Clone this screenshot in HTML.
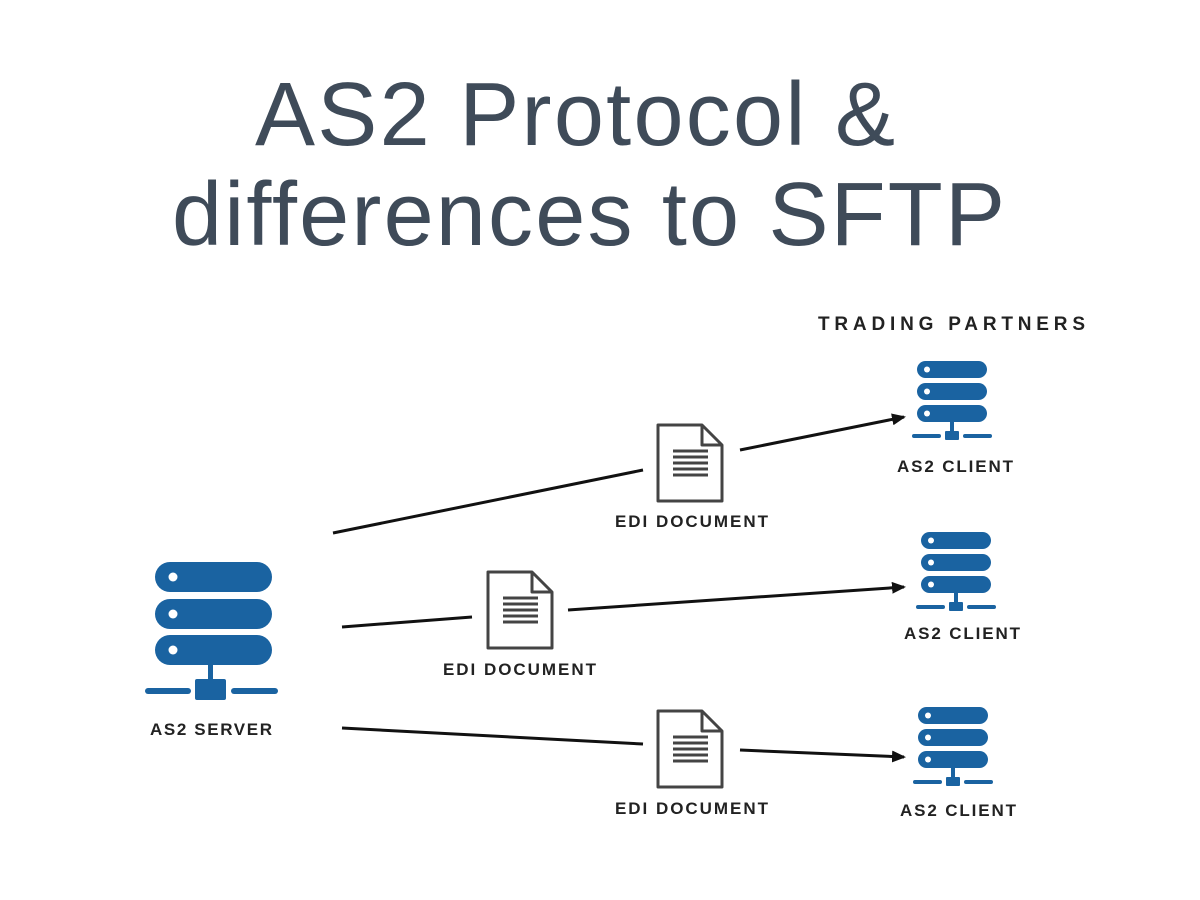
<!DOCTYPE html>
<html><head><meta charset="utf-8"><style>
html,body{margin:0;padding:0;background:#fff;}
svg{display:block;}
.t{font-family:"Liberation Sans",sans-serif;fill:#3f4b59;font-size:90px;}
.l{font-family:"Liberation Sans",sans-serif;font-weight:bold;fill:#222;font-size:17px;}
</style></head><body>
<svg width="1200" height="900" viewBox="0 0 1200 900" xmlns="http://www.w3.org/2000/svg">
<defs>
<marker id="ar" markerWidth="14" markerHeight="12" refX="12" refY="6" orient="auto" markerUnits="userSpaceOnUse">
<path d="M0,0 L14,6 L0,12 Z" fill="#111"/></marker>
<g id="doc">
<path d="M0,0 H44 L64,20 V76 H0 Z" fill="#fff" stroke="#444" stroke-width="3" stroke-linejoin="round"/>
<path d="M44,0 V20 H64" fill="none" stroke="#444" stroke-width="3" stroke-linejoin="round"/>
<g stroke="#444" stroke-width="3"><line x1="15" y1="26" x2="50" y2="26"/><line x1="15" y1="32" x2="50" y2="32"/><line x1="15" y1="38" x2="50" y2="38"/><line x1="15" y1="44" x2="50" y2="44"/><line x1="15" y1="50" x2="50" y2="50"/></g>
</g>
<g id="cli" fill="#1a63a1">
<rect x="0" y="0" width="70" height="17" rx="8.5"/><rect x="0" y="22" width="70" height="17" rx="8.5"/><rect x="0" y="44" width="70" height="17" rx="8.5"/>
<circle cx="10" cy="8.5" r="3" fill="#fff"/><circle cx="10" cy="30.5" r="3" fill="#fff"/><circle cx="10" cy="52.5" r="3" fill="#fff"/>
<rect x="33" y="61" width="4" height="10"/><rect x="28" y="70" width="14" height="9" rx="1"/>
<rect x="-5" y="73" width="29" height="4" rx="2"/><rect x="46" y="73" width="29" height="4" rx="2"/>
</g>
</defs>
<text class="t" x="255" y="145" textLength="640" lengthAdjust="spacing">AS2 Protocol &amp;</text>
<text class="t" x="172" y="245" textLength="833" lengthAdjust="spacing">differences to SFTP</text>
<text class="l" x="818" y="330" textLength="267" lengthAdjust="spacing" style="font-size:19px">TRADING PARTNERS</text>

<g fill="#1a63a1">
<rect x="155" y="562" width="117" height="30" rx="15"/><rect x="155" y="599" width="117" height="30" rx="15"/><rect x="155" y="635" width="117" height="30" rx="15"/>
<circle cx="173" cy="577" r="4.5" fill="#fff"/><circle cx="173" cy="614" r="4.5" fill="#fff"/><circle cx="173" cy="650" r="4.5" fill="#fff"/>
<rect x="208" y="665" width="5" height="15"/><rect x="195" y="679" width="31" height="21" rx="2"/>
<rect x="145" y="688" width="46" height="6" rx="3"/><rect x="231" y="688" width="47" height="6" rx="3"/>
</g>
<text class="l" x="150" y="735" textLength="122" lengthAdjust="spacing">AS2 SERVER</text>

<g stroke="#111" stroke-width="3" fill="none">
<line x1="333" y1="533" x2="643" y2="470"/><line x1="740" y1="450" x2="904" y2="417" marker-end="url(#ar)"/>
<line x1="342" y1="627" x2="472" y2="617"/><line x1="568" y1="610" x2="904" y2="587" marker-end="url(#ar)"/>
<line x1="342" y1="728" x2="643" y2="744"/><line x1="740" y1="750" x2="904" y2="757" marker-end="url(#ar)"/>
</g>

<use href="#doc" x="658" y="425"/>
<use href="#doc" x="488" y="572"/>
<use href="#doc" x="658" y="711"/>
<text class="l" x="615" y="527" textLength="153" lengthAdjust="spacing">EDI DOCUMENT</text>
<text class="l" x="443" y="675" textLength="153" lengthAdjust="spacing">EDI DOCUMENT</text>
<text class="l" x="615" y="814" textLength="153" lengthAdjust="spacing">EDI DOCUMENT</text>

<use href="#cli" x="917" y="361"/>
<use href="#cli" x="921" y="532"/>
<use href="#cli" x="918" y="707"/>
<text class="l" x="897" y="472" textLength="116" lengthAdjust="spacing">AS2 CLIENT</text>
<text class="l" x="904" y="639" textLength="116" lengthAdjust="spacing">AS2 CLIENT</text>
<text class="l" x="900" y="816" textLength="116" lengthAdjust="spacing">AS2 CLIENT</text>
</svg>
</body></html>
